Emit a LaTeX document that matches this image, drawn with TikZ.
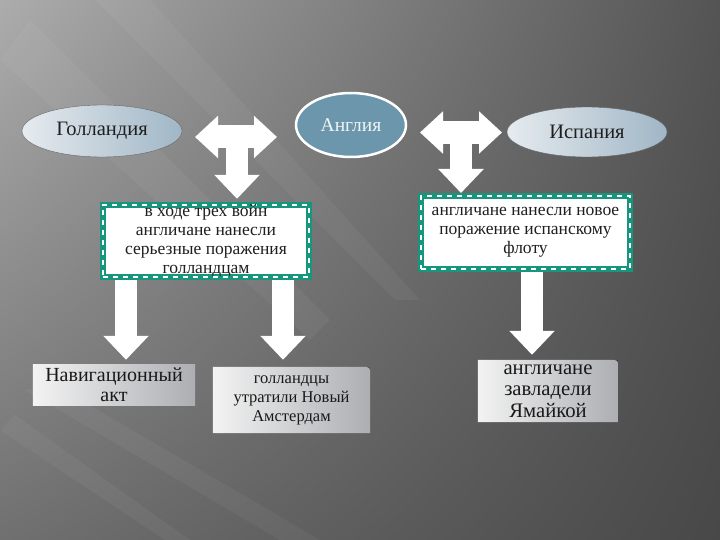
\documentclass[tikz,border=0pt]{standalone}
\usepackage{fontspec}
\setmainfont{Liberation Serif}
\newfontfamily\slidefont{Liberation Serif}
\usepackage{tikz}
\usetikzlibrary{positioning,arrows.meta,calc,shapes.geometric,backgrounds,shadings}
\definecolor{bgtl}{RGB}{172,172,172}
\definecolor{bgtr}{RGB}{84,84,84}
\definecolor{bgbl}{RGB}{112,112,112}
\definecolor{bgbr}{RGB}{72,72,72}
\definecolor{ovalhi}{RGB}{230,235,239}
\definecolor{ovallo}{RGB}{160,182,198}
\definecolor{engblue}{RGB}{108,150,172}
\definecolor{frameteal}{RGB}{22,150,124}
\definecolor{cardhi}{RGB}{243,243,243}
\definecolor{cardlo}{RGB}{172,174,178}

\begin{document}
\begin{tikzpicture}[
    x=1pt, y=-1pt,
    country/.style={ellipse, draw=black!60, thin, left color=ovalhi, right color=ovallo,
                    inner sep=0pt, text=black!88, font=\slidefont\fontsize{20.5}{22}\selectfont},
    centre/.style={ellipse, draw=white, line width=2.5pt, fill=engblue, inner sep=0pt,
                   text=white!90!engblue, font=\slidefont\fontsize{19.5}{21}\selectfont},
    dashbox/.style={draw=frameteal, line width=6pt, fill=white, align=center, inner sep=0pt,
                    text=black!88, font=\slidefont\fontsize{17.5}{19}\selectfont,
                    postaction={draw=white, line width=2.4pt, dash pattern=on 5pt off 5pt}},
    card/.style={align=center, inner sep=0pt, text=black!90},
    cardfill/.style={left color=cardhi, right color=cardlo},
    cardshadow/.style={fill=black, opacity=.3},
    dblarr/.style={white, line width=23pt,
                   {Triangle[width=41pt,length=23pt]}-{Triangle[width=41pt,length=23pt]}},
    blockarr/.style={white, line width=22pt, -{Triangle[width=44pt,length=24pt]}},
    streak/.style={fill=white, opacity=.045},
]
\useasboundingbox (0,0) rectangle (720,540);

% ---- backdrop ----
\begin{scope}[on background layer]
  \shade[upper left=bgtl, upper right=bgtr, lower left=bgbl, lower right=bgbr]
        (0,0) rectangle (720,540);
  \fill[streak] (95,0) -- (150,0) -- (420,300) -- (395,300) -- cycle;
  \fill[streak] (0,60) -- (30,20) -- (330,320) -- (310,340) -- cycle;
  \fill[streak] (25,390) -- (55,385) -- (320,540) -- (280,540) -- cycle;
  \fill[streak] (0,430) -- (15,415) -- (190,540) -- (165,540) -- cycle;
\end{scope}

% ---- countries ----
\node[country, minimum width=160, minimum height=52] (holl) at (102,131) {Голландия};
\node[centre,  minimum width=110, minimum height=64] (angl) at (351,125) {Англия};
\node[country, minimum width=160, minimum height=50] (isp)  at (587,132) {Испания};

% ---- results of the wars ----
\node[dashbox, minimum width=206, minimum height=72] (war)   at (206,241)
     {в ходе трех войн\\англичане нанесли\\серьезные поражения\\голландцам};
\node[dashbox, minimum width=209, minimum height=73] (fleet) at (525.5,232.5)
     {англичане нанесли новое\\поражение испанскому\\флоту};

\node[card, minimum width=162, minimum height=40, font=\slidefont\fontsize{20}{20}\selectfont]
     (nav)  at (114,385) {Навигационный\\акт};
\node[card, minimum width=157, minimum height=66, font=\slidefont\fontsize{16.5}{19}\selectfont]
     (amst) at (291.5,400) {голландцы\\утратили Новый\\Амстердам};
\node[card, minimum width=140, minimum height=62, font=\slidefont\fontsize{20.7}{21.5}\selectfont]
     (jam)  at (548,391) {англичане\\завладели\\Ямайкой};

\begin{scope}[on background layer]
  \begin{scope}[xshift=2pt, yshift=-2pt]
    \fill[cardshadow] (nav.south west) rectangle (nav.north east);
    \fill[cardshadow] (amst.south west) rectangle (amst.north east);
    \fill[cardshadow] (jam.south west) rectangle (jam.north east);
  \end{scope}
  \shade[cardfill] (nav.south west) rectangle (nav.north east);
  \shade[cardfill] (amst.south west) -- (amst.north west) -- ($(amst.north east)+(-9,0)$)
        .. controls (amst.north east) .. ($(amst.north east)+(0,9)$) -- (amst.south east) -- cycle;
  \shade[cardfill] (jam.south west) -- (jam.north west) -- ($(jam.north east)+(-9,0)$)
        .. controls (jam.north east) .. ($(jam.north east)+(0,9)$) -- (jam.south east) -- cycle;
\end{scope}

% ---- arrows ----
\coordinate (lw) at (195,137);
\coordinate (le) at (277,137);
\coordinate (lm) at (237,137);
\coordinate (rw) at (420,132.5);
\coordinate (re) at (502,132.5);
\coordinate (rm) at (461,132.5);
\coordinate (d1) at (126,0);
\coordinate (d2) at (283,0);
\coordinate (d3) at (532,0);

\draw[dblarr] (lw) -- (le);
\draw[blockarr] (lm) -- ($(lm |- war.north)+(0,-3)$);
\draw[dblarr] (rw) -- (re);
\draw[blockarr] (rm) -- (rm |- fleet.north);

\draw[blockarr] (d1 |- war.south) -- ($(d1 |- nav.north)+(0,-5)$);
\draw[blockarr] (d2 |- war.south) -- ($(d2 |- amst.north)+(0,-7)$);
\draw[blockarr] (d3 |- fleet.south) -- ($(d3 |- jam.north)+(0,-5)$);
\end{tikzpicture}
\end{document}
